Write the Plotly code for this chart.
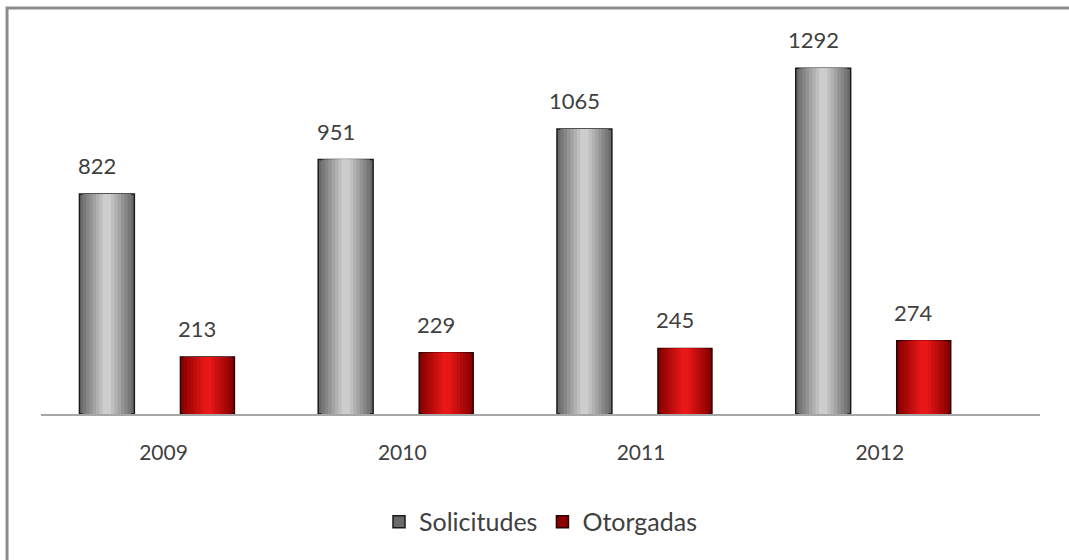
import plotly.graph_objects as go

years = ["2009", "2010", "2011", "2012"]
solicitudes = [822, 951, 1065, 1292]
otorgadas = [213, 229, 245, 274]

pos = list(range(len(years)))
font_family = "Lato, 'Open Sans', sans-serif"
text_color = "#404040"


def blend(c1, c2, t):
    a = [int(c1[i:i + 2], 16) for i in (1, 3, 5)]
    b = [int(c2[i:i + 2], 16) for i in (1, 3, 5)]
    return "#" + "".join(f"{round(x + (y - x) * t):02x}" for x, y in zip(a, b))


def add_cylinder(fig, values, name, left, width, edge, center, outline):
    # stack narrower, lighter bars to mimic the shaded bars of the original
    n = 8
    for i in range(n):
        t = i / (n - 1)
        w = width * (1 - 0.85 * t)
        off = left + (width - w) / 2
        fig.add_trace(go.Bar(
            x=pos, y=values, width=w, offset=off,
            marker=dict(color=blend(edge, center, t),
                        line=dict(width=1.5 if i == 0 else 0, color=outline)),
            name=name, showlegend=(i == 0), legendgroup=name,
            hoverinfo=None if i == 0 else "skip"
        ))


fig = go.Figure()
add_cylinder(fig, solicitudes, "Solicitudes", -0.327, 0.230, "#6a6a6a", "#cdcdcd", "#1a1a1a")
add_cylinder(fig, otorgadas, "Otorgadas", 0.096, 0.226, "#8a0000", "#e81818", "#2a0000")

for p, v in zip(pos, solicitudes):
    fig.add_annotation(x=p - 0.252, y=v, text=str(v), showarrow=False,
                       yanchor="bottom", yshift=13,
                       font=dict(family=font_family, size=22, color=text_color))
for p, v in zip(pos, otorgadas):
    fig.add_annotation(x=p + 0.167, y=v, text=str(v), showarrow=False,
                       yanchor="bottom", yshift=13,
                       font=dict(family=font_family, size=22, color=text_color))

# outer chart border
fig.add_shape(type="rect", xref="paper", yref="paper",
              x0=-0.034, x1=1.05, y0=-0.5, y1=1.057,
              line=dict(color="#8c8c8c", width=3), layer="below")

fig.update_layout(
    width=1069, height=560,
    barmode="overlay",
    plot_bgcolor="white", paper_bgcolor="white",
    margin=dict(l=41, r=29, t=30, b=146),
    font=dict(family=font_family, size=20, color=text_color),
    showlegend=True,
    legend=dict(orientation="h", x=0.5, xanchor="center", y=-0.281, yanchor="middle",
                font=dict(size=25, color=text_color), itemwidth=30,
                traceorder="normal"),
    xaxis=dict(range=[-0.488, 3.696], tickvals=[p + 0.025 for p in pos], ticktext=years,
               showgrid=False, zeroline=False, showline=True,
               linecolor="#a6a6a6", linewidth=2, ticks="",
               ticklabelstandoff=19,
               tickfont=dict(size=21, color=text_color)),
    yaxis=dict(range=[0, 1435], visible=False, showgrid=False, zeroline=False),
)

fig.write_html("out.html", config={"displayModeBar": False},
               post_script="document.body.style.margin='0';")
